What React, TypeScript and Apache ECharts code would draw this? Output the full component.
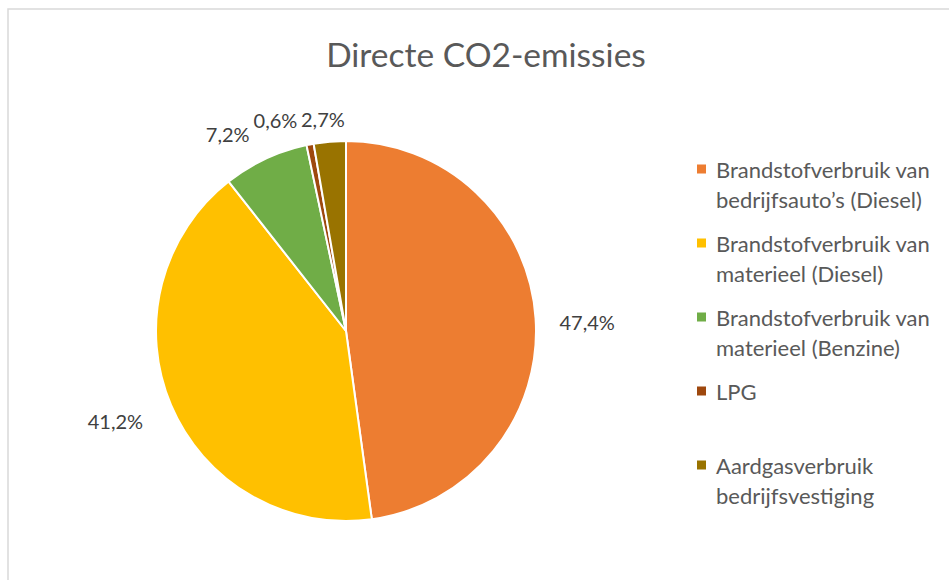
import React, { useEffect, useRef } from "react";
import * as echarts from "echarts";

const categories = [
  "Brandstofverbruik van bedrijfsauto’s (Diesel)",
  "Brandstofverbruik van materieel (Diesel)",
  "Brandstofverbruik van materieel (Benzine)",
  "LPG",
  "Aardgasverbruik bedrijfsvestiging",
];
const legendLabels = [
  "Brandstofverbruik van\nbedrijfsauto’s (Diesel)",
  "Brandstofverbruik van\nmaterieel (Diesel)",
  "Brandstofverbruik van\nmaterieel (Benzine)",
  "LPG\n ",
  "Aardgasverbruik\nbedrijfsvestiging",
];
const values = [47.4, 41.2, 7.2, 0.6, 2.7];
const colors = ["#ED7D31", "#FFC000", "#70AD47", "#9E480E", "#997300"];
// label line lengths (style) per slice
const labelLen = [15, 25, 28, 25, 23];
const labelLen2 = [6, 0, 4, 0, 0];
const labelShift = [
  [-2, 5],
  [0, 6],
  [5, 0],
  [-3, 0],
  [22, 0],
];

const FONT = "Lato, 'Open Sans', sans-serif";
const ICON = "path://M0,0L9,0L9,9L0,9Z M0,39L14,39";

export default function App() {
  const ref = useRef<HTMLDivElement>(null);
  useEffect(() => {
    if (!ref.current) return;
    const chart = echarts.init(ref.current, undefined, { renderer: "svg" });
    chart.setOption({
      animation: false,
      backgroundColor: "#ffffff",
      textStyle: { fontFamily: FONT },
      graphic: [
        {
          type: "rect",
          shape: { x: 8, y: 9, width: 1200, height: 1200 },
          style: { fill: "none", stroke: "#D9D9D9", lineWidth: 1.5 },
          silent: true,
        },
      ],
      title: {
        text: "Directe CO2-emissies",
        left: 481,
        textAlign: "center",
        top: 32,
        textStyle: {
          fontFamily: FONT,
          fontSize: 33.5,
          fontWeight: "normal",
          color: "#595959",
        },
      },
      legend: {
        orient: "vertical",
        left: 697,
        top: 154,
        padding: 0,
        itemGap: 14,
        itemWidth: 14,
        itemHeight: 39,
        itemStyle: { borderWidth: 0 },
        data: categories.map((c) => ({ name: c, icon: ICON })),
        formatter: (name: string) => legendLabels[categories.indexOf(name)],
        textStyle: {
          fontFamily: FONT,
          fontSize: 22,
          lineHeight: 30,
          color: "#595959",
        },
      },
      series: [
        {
          type: "pie",
          center: [346, 331],
          radius: 190,
          startAngle: 90,
          clockwise: true,
          avoidLabelOverlap: false,
          itemStyle: { borderColor: "#ffffff", borderWidth: 2 },
          label: {
            show: true,
            position: "outside",
            fontFamily: FONT,
            fontSize: 20,
            color: "#404040",
            formatter: (p: any) => `${p.value.toFixed(1).replace(".", ",")}%`,
          },
          labelLine: { show: false },
          labelLayout: (p: any) => ({
            dx: labelShift[p.dataIndex][0],
            dy: labelShift[p.dataIndex][1],
          }),
          emphasis: { disabled: true },
          data: categories.map((c, i) => ({
            name: c,
            value: values[i],
            itemStyle: { color: colors[i] },
            labelLine: { show: false, length: labelLen[i], length2: labelLen2[i] },
          })),
        },
      ],
    });
    return () => chart.dispose();
  }, []);
  return (
    <div
      ref={ref}
      style={{ position: "fixed", left: 0, top: 0, width: 949, height: 580 }}
    />
  );
}
